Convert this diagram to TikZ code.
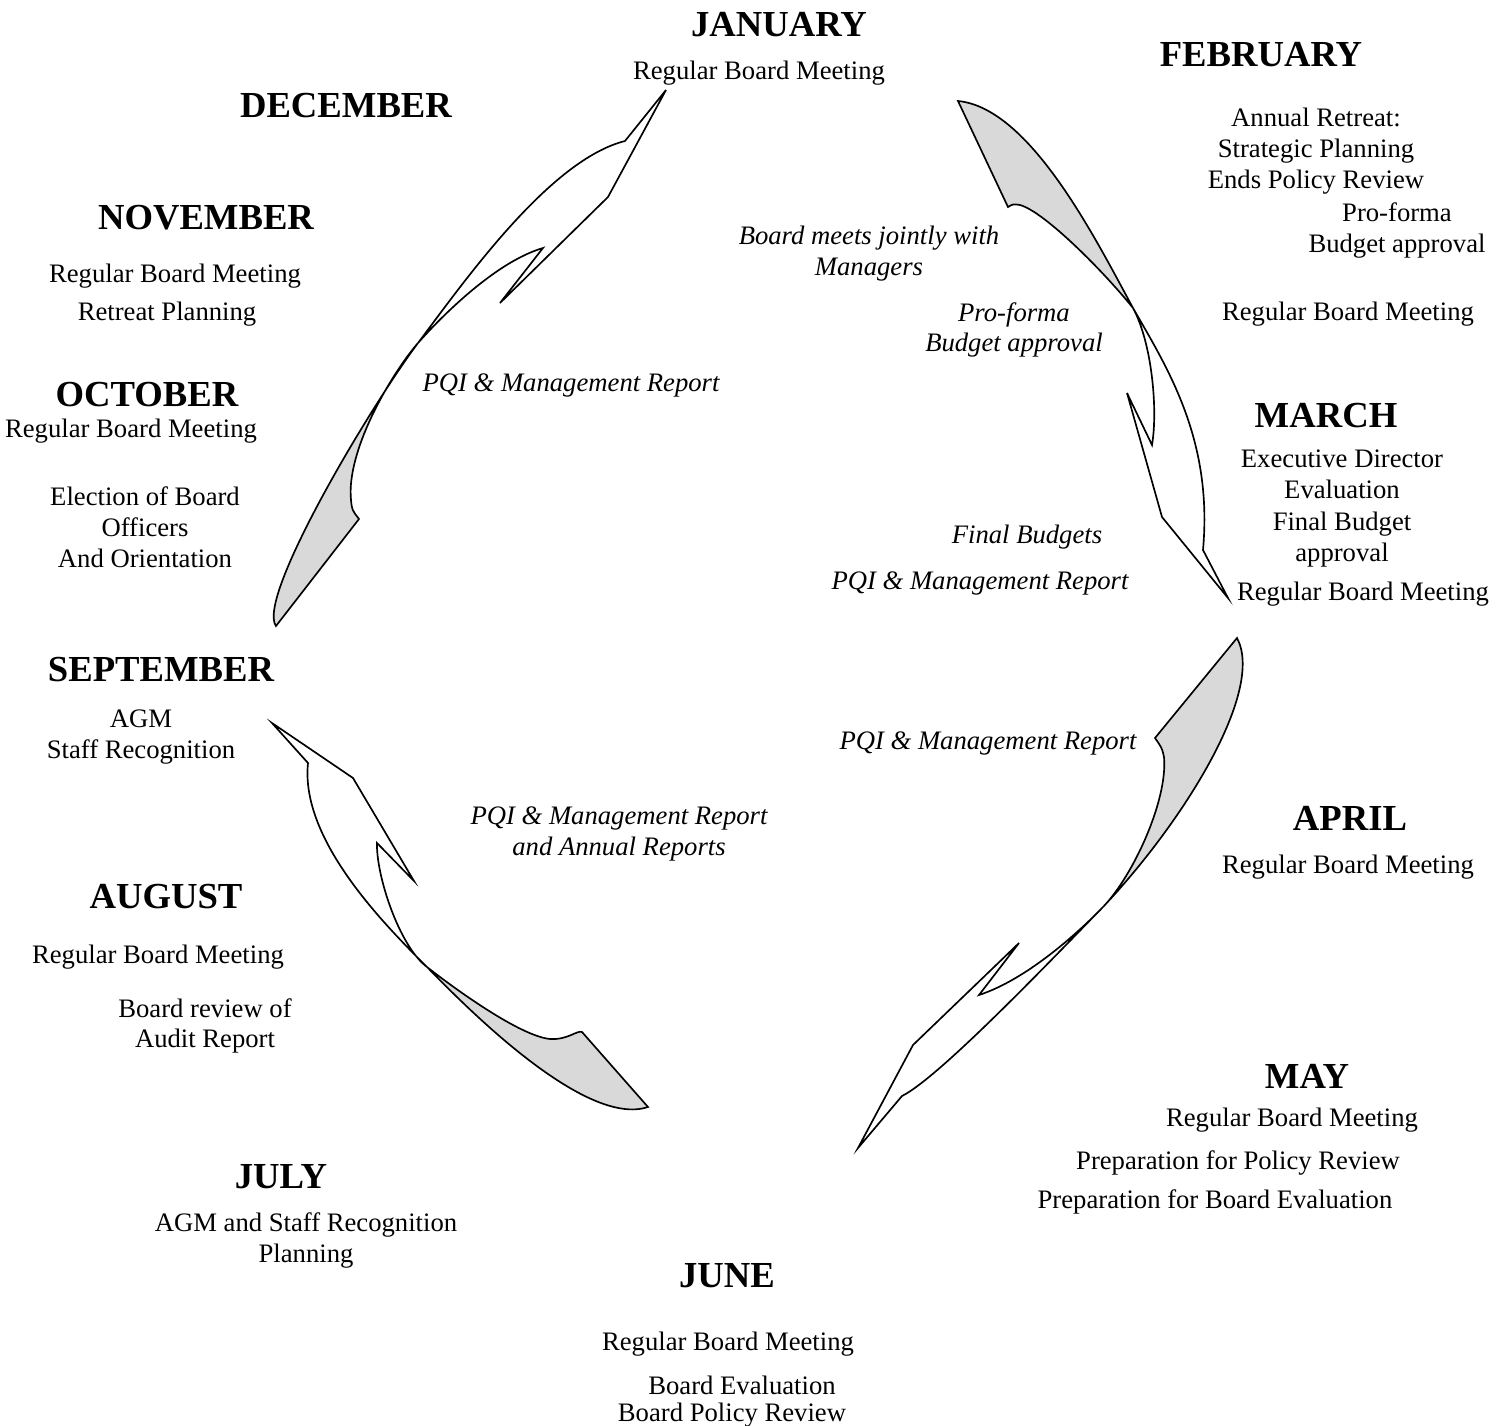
\documentclass[tikz,border=0pt]{standalone}
\usepackage{fontspec}
\setmainfont{Liberation Serif}
\begin{document}
\begin{tikzpicture}[x=0.45pt, y=-0.45pt, line width=0.75pt,
  month/.style={font=\fontsize{16.5}{19}\selectfont\bfseries, inner sep=0pt, yshift=-1.2pt},
  item/.style={font=\fontsize{12}{13.9}\selectfont, align=center, inner sep=0pt, yshift=-1.3pt},
  note/.style={font=\fontsize{12}{13.9}\selectfont\itshape, align=center, inner sep=0pt, yshift=-1.3pt},
  backface/.style={draw, fill=black!15}]
\useasboundingbox (0,0) rectangle (1505,1426);
\node[month] (M_1) at (779,22) {JANUARY};
\node[item] (M_1_a) at (759,70) {Regular Board Meeting};
\node[month] (M_2) at (1261,52) {FEBRUARY};
\node[item] (M_2_a) at (1316,148) {Annual Retreat:\\Strategic Planning\\Ends Policy Review};
\node[item] (M_2_b) at (1397,228) {Pro-forma\\Budget approval};
\node[item] (M_2_c) at (1348,311) {Regular Board Meeting};
\node[month] (M_3) at (1326,413) {MARCH};
\node[item] (M_3_a) at (1342,471) {Executive Director\\Evaluation};
\node[item] (M_3_b) at (1342,537) {Final Budget\\approval};
\node[item] (M_3_c) at (1363,591) {Regular Board Meeting};
\node[month] (M_4) at (1350,816) {APRIL};
\node[item] (M_4_a) at (1348,864) {Regular Board Meeting};
\node[month] (M_5) at (1307,1074) {MAY};
\node[item] (M_5_a) at (1292,1117) {Regular Board Meeting};
\node[item] (M_5_b) at (1238,1160) {Preparation for Policy Review};
\node[item] (M_5_c) at (1215,1199) {Preparation for Board Evaluation};
\node[month] (M_6) at (727,1273) {JUNE};
\node[item] (M_6_a) at (728,1341) {Regular Board Meeting};
\node[item] (M_6_b) at (742,1382) {Board Evaluation};
\node[item] (M_6_c) at (732,1412) {Board Policy Review};
\node[month] (M_7) at (281,1174) {JULY};
\node[item] (M_7_a) at (306,1238) {AGM and Staff Recognition\\Planning};
\node[month] (M_8) at (166,894) {AUGUST};
\node[item] (M_8_a) at (158,954) {Regular Board Meeting};
\node[item] (M_8_b) at (205,1023) {Board review of\\Audit Report};
\node[month] (M_9) at (161,667) {SEPTEMBER};
\node[item] (M_9_a) at (141,734) {AGM\\Staff Recognition};
\node[month] (M_10) at (147,392) {OCTOBER};
\node[item] (M_10_a) at (131,428) {Regular Board Meeting};
\node[item] (M_10_b) at (145,524) {Election of Board\\Officers\\And Orientation};
\node[month] (M_11) at (206,215) {NOVEMBER};
\node[item] (M_11_a) at (175,273) {Regular Board Meeting};
\node[item] (M_11_b) at (167,311) {Retreat Planning};
\node[month] (M_12) at (346,103) {DECEMBER};
\node[note] (N_1) at (869,251) {Board meets jointly with\\Managers};
\node[note] (N_2) at (1014,327) {Pro-forma\\Budget approval};
\node[note] (N_3) at (1027,534) {Final Budgets};
\node[note] (N_4) at (980,581) {PQI \& Management Report};
\node[note] (N_5) at (988,741) {PQI \& Management Report};
\node[note] (N_6) at (619,831) {PQI \& Management Report\\and Annual Reports};
\node[note] (N_7) at (571,383) {PQI \& Management Report};
\coordinate (A_t) at (276,626);
\coordinate (A_h) at (359,519);
\coordinate (A_x) at (418,343);
\coordinate (A_b1) at (625,141);
\coordinate (A_tip) at (666,90);
\coordinate (A_b2) at (608,197);
\coordinate (A_n1) at (500,303);
\coordinate (A_n2) at (543,248);
\draw (A_x) .. controls (466,279) and (550,160) .. (A_b1) -- (A_tip) -- (A_b2) -- (A_n1) -- (A_n2) .. controls (495,262) and (440,318) .. (A_x);
\path[backface] (A_t) .. controls (256,598) and (370,407) .. (A_x) .. controls (392,373) and (346,450) .. (351,500) .. controls (352,510) .. (A_h) -- cycle;
\coordinate (B_t) at (958,101);
\coordinate (B_h) at (1008,207);
\coordinate (B_x) at (1133,308);
\coordinate (B_b1) at (1203,550);
\coordinate (B_tip) at (1228,598);
\coordinate (B_b2) at (1162,517);
\coordinate (B_n2) at (1127,393);
\coordinate (B_n1) at (1152,445);
\draw (B_x) .. controls (1168,369) and (1213,440) .. (B_b1) -- (B_tip) -- (B_b2) -- (B_n2) -- (B_n1) .. controls (1158,410) and (1152,343) .. (B_x);
\path[backface] (B_t) .. controls (1030,108) and (1095,238) .. (B_x) .. controls (1105,273) and (1045,212) .. (1020,205) .. controls (1013,204) .. (B_h) -- cycle;
\coordinate (C_t) at (1237,638);
\coordinate (C_h) at (1155,738);
\coordinate (C_x) at (1103,907);
\coordinate (C_b1) at (902,1096);
\coordinate (C_tip) at (858,1148);
\coordinate (C_b2) at (913,1045);
\coordinate (C_n2) at (1019,943);
\coordinate (C_n1) at (979,995);
\draw (C_x) .. controls (1054,957) and (940,1077) .. (C_b1) -- (C_tip) -- (C_b2) -- (C_n2) -- (C_n1) .. controls (1025,980) and (1075,936) .. (C_x);
\path[backface] (C_t) .. controls (1265,690) and (1185,820) .. (C_x) .. controls (1133,876) and (1168,800) .. (1164,757) .. controls (1162,748) .. (C_h) -- cycle;
\coordinate (D_t) at (648,1107);
\coordinate (D_h) at (582,1032);
\coordinate (D_x) at (427,967);
\coordinate (D_b1) at (308,763);
\coordinate (D_tip) at (272,723);
\coordinate (D_b2) at (353,778);
\coordinate (D_n2) at (414,881);
\coordinate (D_n1) at (377,843);
\draw (D_x) .. controls (385,925) and (300,840) .. (D_b1) -- (D_tip) -- (D_b2) -- (D_n2) -- (D_n1) .. controls (376,875) and (399,946) .. (D_x);
\path[backface] (D_x) .. controls (465,1006) and (585,1128) .. (D_t) -- (D_h) .. controls (577,1030) and (568,1040) .. (550,1039) .. controls (520,1036) and (455,989) .. (D_x) -- cycle;
\end{tikzpicture}
\end{document}
